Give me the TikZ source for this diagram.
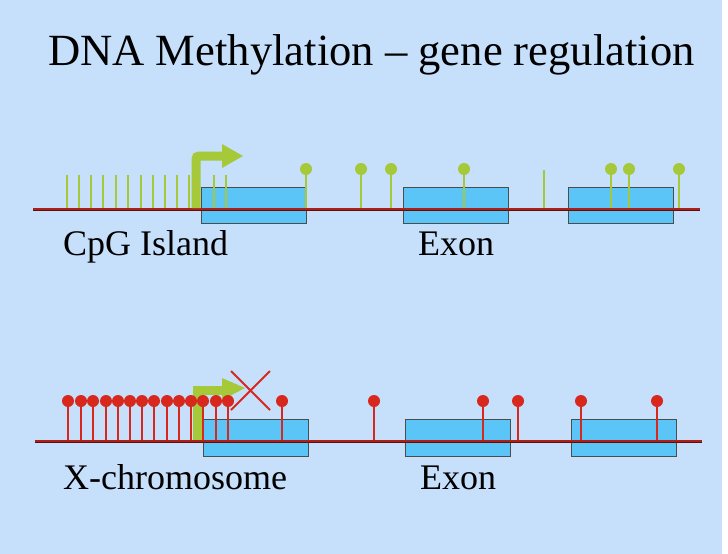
\documentclass[tikz,border=0pt]{standalone}
\usepackage{fontspec}
\setmainfont{Liberation Serif}
\usetikzlibrary{arrows.meta, positioning}
\definecolor{slidebg}{HTML}{C6DFFA}
\definecolor{exonblue}{HTML}{5BC5F7}
\definecolor{cpggreen}{HTML}{A6C93A}
\definecolor{methred}{HTML}{D8281E}
\definecolor{dnaline}{HTML}{5A1010}

\begin{document}
\begin{tikzpicture}[
    x=1pt, y=-1pt,
    exon/.style={draw=black!70, fill=exonblue, line width=0.8pt},
    strand/.style={draw=dnaline, line width=3pt, postaction={draw=methred!80!black, line width=1.2pt}},
    stick/.style={cpggreen, line width=2.4pt},
    lolli/.style={methred, line width=2pt},
    promo/.style={cpggreen, line width=9pt},
    label/.style={anchor=base west, font=\fontsize{36}{40}\selectfont, inner sep=0pt}
  ]
    \fill[slidebg] (0,0) rectangle (722,554);
    \fill[white] (722,0) rectangle (728,554);
    \useasboundingbox (0,0) rectangle (728,554);
    \node[anchor=base west, inner sep=0pt, font=\fontsize{44.6}{48}\selectfont] (title) at (48,65) {DNA Methylation -- gene regulation};

    % unmethylated CpG island
    \foreach \x [count=\i] in {201,403,568}
      \node[exon, minimum width=105pt, minimum height=36pt, inner sep=0pt, anchor=north west] (ua\i) at (\x,187) {};
    \draw[strand] (33,209) -- (700,209);
    \foreach \x in {67,79,91,103,116,128,141,153,165,177,189,214,226}
      \draw[stick] (\x,208) -- (\x,175);
    \foreach \x in {306,361,391,464,611,629,679} {
      \draw[stick] (\x,208) -- (\x,170);
      \fill[cpggreen] (\x,169) circle (6pt);
    }
    \draw[stick] (544,208) -- (544,170);
    \coordinate (tssA) at (196,208);
    \draw[promo] (tssA) -- (196,162) to[rounded corners=3pt] (196,156) -- (225,156);
    \fill[cpggreen] (222,144) -- (243,156) -- (222,168) -- cycle;
    \node[label] (cpg) at (63,255) {CpG Island};
    \node[label] (exA) at (418,255) {Exon};

    % methylated X-chromosome
    \foreach \x [count=\i] in {203,405,571}
      \node[exon, minimum width=105pt, minimum height=37pt, inner sep=0pt, anchor=north west] (ub\i) at (\x,419) {};
    \draw[strand] (35,441) -- (702,441);
    \draw[promo] (197,440) -- (197,390) -- (225,390);
    \fill[cpggreen] (222,378) -- (245,388) -- (222,400) -- cycle;
    \foreach \x in {68,81,93,106,118,130,142,154,167,179,191,203,216,228,282,374,483,518,581,657} {
      \draw[lolli] (\x,440) -- (\x,402);
      \fill[methred] (\x,401) circle (6pt);
    }
    \draw[methred, line width=1.8pt] (231,371) -- (270,410) (270,371) -- (231,410);
    \node[label] (xchr) at (63,489) {X-chromosome};
    \node[label] (exB) at (420,489) {Exon};
  \end{tikzpicture}
\end{document}
